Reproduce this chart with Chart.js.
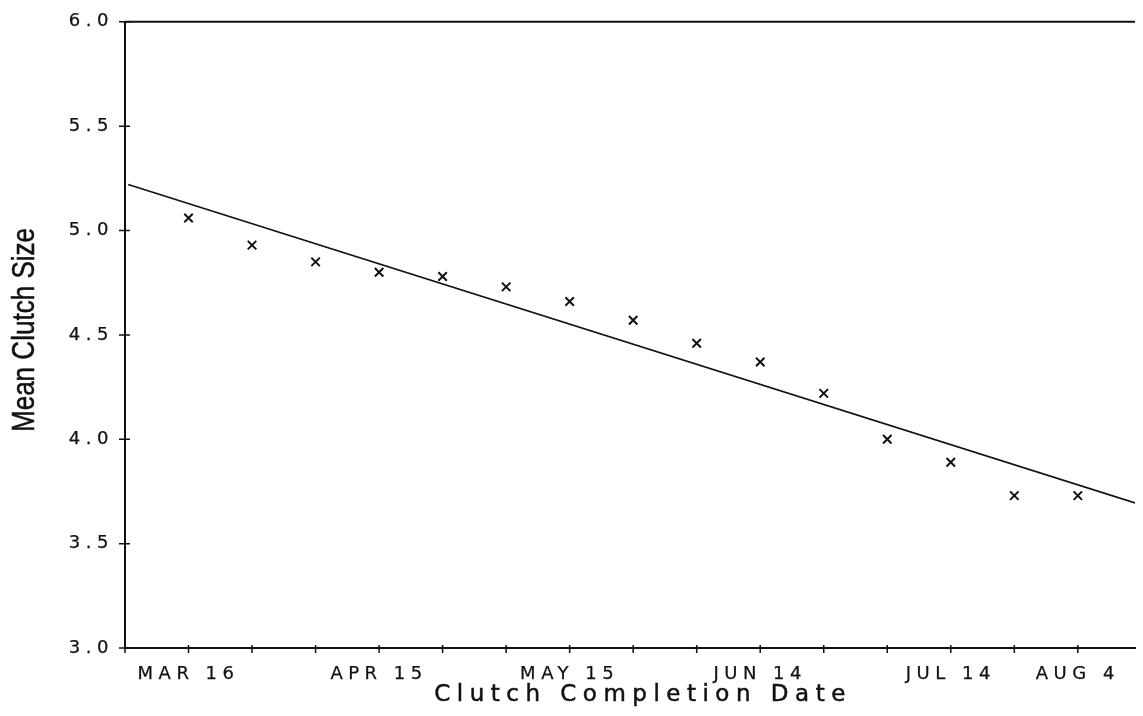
<!DOCTYPE html>
<html>
<head>
<meta charset="utf-8">
<script src="https://cdn.jsdelivr.net/npm/chart.js@4/dist/chart.umd.min.js"></script>
<style>
  html, body { margin: 0; padding: 0; background: #fff; }
  #wrap { width: 1143px; height: 716px; }
</style>
</head>
<body>
<div id="wrap"><canvas id="chart"></canvas></div>
<script>
// days after Mar 16 for each plotted mean
const days = [0, 10, 20, 30, 40, 50, 60, 70, 80, 90, 100, 110, 120, 130, 140];
const meanClutch = [5.06, 4.93, 4.85, 4.80, 4.78, 4.73, 4.66, 4.57, 4.46, 4.37, 4.22, 4.00, 3.89, 3.73, 3.73];
// fitted line, two ends
const fitDays = [-9.5, 149];
const fitSize = [5.22, 3.695];
// x ticks every 10 days, some of them labelled
const xTickDays = [-10, 0, 10, 20, 30, 40, 50, 60, 70, 80, 90, 100, 110, 120, 130, 140];
const xLabelDays = [0, 30, 60, 90, 120, 140];
const xLabels = ['MAR 16', 'APR 15', 'MAY 15', 'JUN 14', 'JUL 14', 'AUG 4'];
const yMin = 3.0, yMax = 6.0, yStep = 0.5;
const xTitle = 'Clutch Completion Date';
const yTitle = 'Mean Clutch Size';

const ink = '#111';

const frame = {
    id: 'frame',
    beforeDraw(chart) {
        chart.ctx.letterSpacing = '5.5px';
    },
    afterDraw(chart) {
        const { ctx, chartArea: a, scales: { x, y } } = chart;
        ctx.save();
        ctx.strokeStyle = ink;
        ctx.lineWidth = 2;
        ctx.beginPath();
        ctx.moveTo(a.left, a.top);
        ctx.lineTo(a.right, a.top);
        ctx.stroke();
        // ticks crossing the axes
        ctx.lineWidth = 1.5;
        ctx.beginPath();
        x.ticks.forEach(t => {
            const px = x.getPixelForValue(t.value);
            ctx.moveTo(px, a.bottom - 3);
            ctx.lineTo(px, a.bottom + 5);
        });
        y.ticks.forEach(t => {
            const py = y.getPixelForValue(t.value);
            ctx.moveTo(a.left - 6, py);
            ctx.lineTo(a.left + 5, py);
        });
        ctx.stroke();

        ctx.fillStyle = ink;
        ctx.lineWidth = 0.5;
        ctx.letterSpacing = '6.5px';
        ctx.font = '23px "DejaVu Sans"';
        ctx.textAlign = 'center';
        ctx.textBaseline = 'middle';
        ctx.fillText(xTitle, 643, 695);
        ctx.strokeText(xTitle, 643, 695);

        ctx.letterSpacing = '0px';
        ctx.font = '31px "Liberation Sans", Arial, sans-serif';
        ctx.translate(25, 330);
        ctx.rotate(-Math.PI / 2);
        ctx.scale(0.84, 1);
        ctx.fillText(yTitle, 0, 0);
        ctx.strokeText(yTitle, 0, 0);
        ctx.restore();
        ctx.letterSpacing = '0px';
    }
};

const tickFont = { family: 'DejaVu Sans', size: 18 };

new Chart(document.getElementById('chart'), {
    type: 'scatter',
    data: {
        datasets: [
            {
                type: 'line',
                data: fitDays.map((d, i) => ({ x: d, y: fitSize[i] })),
                borderColor: ink,
                borderWidth: 1.6,
                pointRadius: 0,
                fill: false
            },
            {
                data: days.map((d, i) => ({ x: d, y: meanClutch[i] })),
                pointStyle: 'crossRot',
                pointRadius: 6,
                borderColor: ink,
                borderWidth: 2
            }
        ]
    },
    options: {
        responsive: true,
        maintainAspectRatio: false,
        animation: false,
        layout: { padding: { top: 17, right: 0, left: 0, bottom: 0 } },
        plugins: { legend: { display: false }, tooltip: { enabled: false } },
        scales: {
            x: {
                type: 'linear',
                min: -10,
                max: 149,
                afterFit: s => { s.height = 68; },
                afterBuildTicks: s => { s.ticks = xTickDays.map(v => ({ value: v })); },
                grid: { drawOnChartArea: false, drawTicks: false },
                border: { color: ink, width: 2 },
                ticks: {
                    autoSkip: false,
                    maxRotation: 0,
                    padding: 16,
                    color: ink,
                    textStrokeColor: ink,
                    textStrokeWidth: 0.25,
                    font: tickFont,
                    callback: v => {
                        const i = xLabelDays.indexOf(v);
                        return i < 0 ? '' : xLabels[i];
                    }
                }
            },
            y: {
                min: yMin,
                max: yMax,
                afterFit: s => { s.width = 125; },
                grid: { drawOnChartArea: false, drawTicks: false },
                border: { color: ink, width: 2 },
                ticks: {
                    stepSize: yStep,
                    padding: 11,
                    color: ink,
                    textStrokeColor: ink,
                    textStrokeWidth: 0.25,
                    font: tickFont,
                    callback: v => v.toFixed(1)
                }
            }
        }
    },
    plugins: [frame]
});
</script>
</body>
</html>
